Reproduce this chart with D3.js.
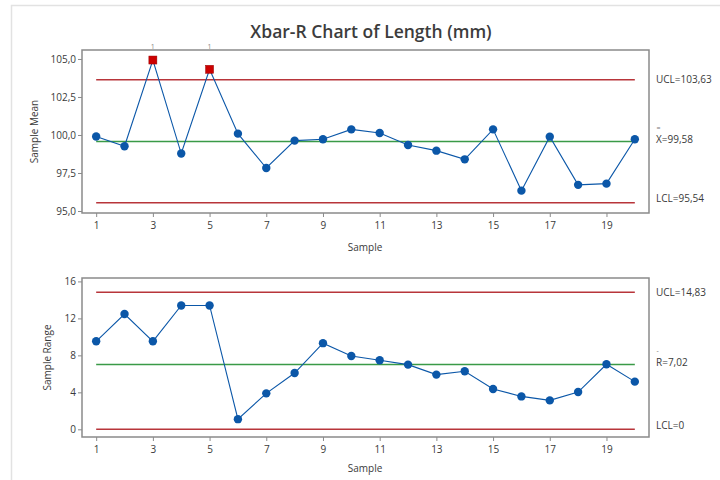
<!DOCTYPE html>
<html><head><meta charset="utf-8">
<script src="https://cdn.jsdelivr.net/npm/d3@7"></script>
<style>
body{margin:0;background:#fff;}
svg{display:block;font-family:"Open Sans","Noto Sans",sans-serif;}
</style></head>
<body>
<svg id="chart" width="720" height="480"></svg>
<script>
const samples = d3.range(1, 21);
const sampleMeans = [99.90, 99.26, 104.93, 98.78, 104.32, 100.09, 97.83, 99.63, 99.72, 100.37,
                     100.13, 99.34, 98.97, 98.40, 100.37, 96.34, 99.89, 96.72, 96.80, 99.72];
const sampleRanges = [9.52, 12.47, 9.52, 13.40, 13.40, 1.10, 3.89, 6.09, 9.32, 7.94,
                      7.47, 7.00, 5.92, 6.28, 4.36, 3.56, 3.13, 4.03, 7.04, 5.16];
const meanLimits = {ucl: 103.63, center: 99.58, lcl: 95.54};
const rangeLimits = {ucl: 14.83, center: 7.02, lcl: 0};
const meanLabels = ["UCL=103,63", "X=99,58", "LCL=95,54"];
const rangeLabels = ["UCL=14,83", "R=7,02", "LCL=0"];
const meanTicks = [95, 97.5, 100, 102.5, 105];
const rangeTicks = [0, 4, 8, 12, 16];
const xTicks = [1, 3, 5, 7, 9, 11, 13, 15, 17, 19];
const outOfControl = [3, 5];
const title = "Xbar-R Chart of Length (mm)";

const svg = d3.select("#chart");
const fmt1 = d => d3.format(".1f")(d).replace(".", ",");
const BLUE = "#0b57a8", RED = "#b8353a", GREEN = "#3a9a47", FRAME = "#8a8a8a", TXT = "#3a3a3a";

// outer light border
svg.append("rect").attr("x", 11.5).attr("y", 5.5).attr("width", 720).attr("height", 480)
  .attr("fill", "none").attr("stroke", "#e2e2e2").attr("stroke-width", 1.5);

svg.append("text").attr("x", 371).attr("y", 38).attr("text-anchor", "middle")
  .attr("font-size", 17.5).attr("font-weight", 600).attr("fill", "#3c3c3c").text(title);

function panel(cfg) {
  const {top, bottom, yDomain, values, limits, labels, ticks, tickFmt, yLabel, yLabelX, xLabelY, barText, flagged} = cfg;
  const left = 82, right = 649;
  const x = d3.scaleLinear().domain([0.5, 20.5]).range([left, right]);
  const y = d3.scaleLinear().domain(yDomain).range([bottom, top]);
  const g = svg.append("g");

  const yAxis = g.append("g").attr("transform", `translate(${left},0)`)
    .call(d3.axisLeft(y).tickValues(ticks).tickFormat(tickFmt).tickSize(4).tickPadding(2));
  const xAxis = g.append("g").attr("transform", `translate(0,${bottom})`)
    .call(d3.axisBottom(x).tickValues(xTicks).tickSize(4).tickPadding(5));
  [yAxis, xAxis].forEach(a => {
    a.select(".domain").remove();
    a.selectAll("line").attr("stroke", FRAME);
    a.selectAll("text").attr("font-size", 10).attr("fill", TXT).attr("font-family", "'Open Sans',sans-serif");
  });

  g.append("rect").attr("x", left).attr("y", top).attr("width", right - left).attr("height", bottom - top)
    .attr("fill", "none").attr("stroke", FRAME).attr("stroke-width", 1.5);

  const lim = [[limits.ucl, RED], [limits.center, GREEN], [limits.lcl, RED]];
  lim.forEach(([v, c]) => {
    g.append("line").attr("x1", x(1)).attr("x2", x(20)).attr("y1", y(v)).attr("y2", y(v))
      .attr("stroke", c).attr("stroke-width", 1.5);
  });

  const line = d3.line().x((d, i) => x(samples[i])).y(d => y(d));
  g.append("path").datum(values).attr("d", line).attr("fill", "none").attr("stroke", BLUE).attr("stroke-width", 1.1);

  values.forEach((v, i) => {
    const s = samples[i];
    if (flagged.includes(s)) {
      g.append("rect").attr("x", x(s) - 4).attr("y", y(v) - 4).attr("width", 8).attr("height", 8)
        .attr("fill", "#cc0000").attr("stroke", "#9a0000").attr("stroke-width", 0.5);
      g.append("text").attr("x", x(s)).attr("y", top - 1).attr("text-anchor", "middle")
        .attr("font-size", 7).attr("fill", "#888").text("1");
    } else {
      g.append("circle").attr("cx", x(s)).attr("cy", y(v)).attr("r", 4.2).attr("fill", BLUE);
    }
  });

  // right labels
  const lx = 656;
  [[limits.ucl, labels[0]], [limits.center, labels[1]], [limits.lcl, labels[2]]].forEach(([v, t], k) => {
    let yy = y(v) + 3.5;
    if (k === 1) yy = y(v) + 2;
    if (k === 2) yy = y(v) - 0.5;
    g.append("text").attr("x", lx).attr("y", yy).attr("font-size", 10).attr("fill", TXT).text(t);
    if (k === 1) {
      g.append("text").attr("x", lx + 0.5).attr("y", yy - 13).attr("font-size", 7).attr("fill", "#777").text(barText);
    }
  });

  g.append("text").attr("transform", `translate(${yLabelX},${(top + bottom) / 2}) rotate(-90)`)
    .attr("text-anchor", "middle").attr("font-size", 10).attr("fill", TXT).text(yLabel);
  g.append("text").attr("x", 365).attr("y", xLabelY).attr("text-anchor", "middle")
    .attr("font-size", 10).attr("fill", TXT).text("Sample");
}

panel({top: 50, bottom: 213, yDomain: [94.87, 105.59], values: sampleMeans, limits: meanLimits,
  labels: meanLabels, ticks: meanTicks, tickFmt: fmt1, yLabel: "Sample Mean", yLabelX: 38,
  xLabelY: 251, barText: "=", flagged: outOfControl});
panel({top: 278, bottom: 437, yDomain: [-0.83, 16.37], values: sampleRanges, limits: rangeLimits,
  labels: rangeLabels, ticks: rangeTicks, tickFmt: d3.format("d"), yLabel: "Sample Range", yLabelX: 51,
  xLabelY: 472, barText: "-", flagged: []});
</script>
</body></html>
